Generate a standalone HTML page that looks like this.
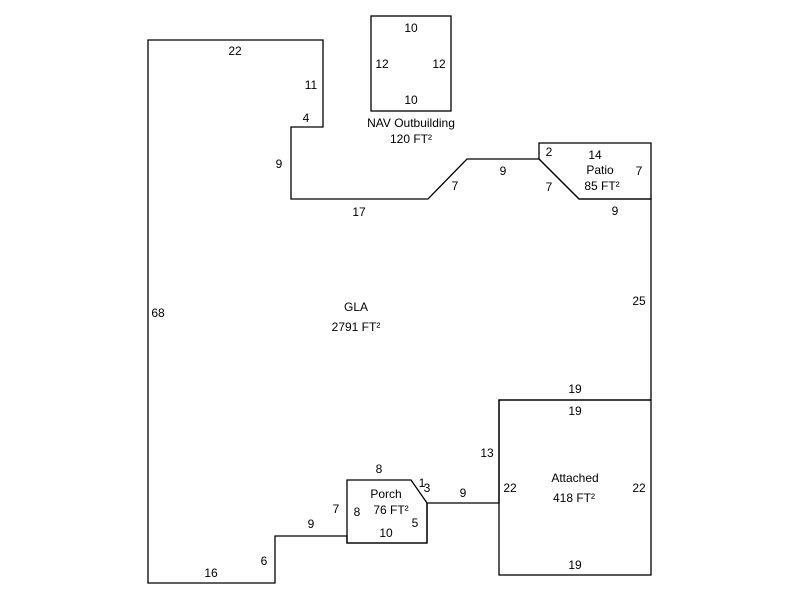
<!DOCTYPE html>
<html><head><meta charset="utf-8"><style>
html,body{margin:0;padding:0;background:#fff;}
svg text{font-family:"Liberation Sans",sans-serif;font-size:12px;fill:#000;}
</style></head><body>
<svg width="800" height="600" viewBox="0 0 800 600" xmlns="http://www.w3.org/2000/svg">
<g fill="none" stroke="#000" stroke-width="1.3">
<polygon points="148,40 323,40 323,127 291,127 291,199 428,199 467,159 539,159 579,199 651,199 651,400 499,400 499,503 427,503 427,543 347,543 347,536 275,536 275,583 148,583"/>
<polygon points="539,143 651,143 651,199 579,199 539,159"/>
<polygon points="347,480 411,480 427,503 427,543 347,543"/>
<rect x="499" y="400" width="152" height="175"/>
<rect x="371" y="16" width="80" height="95"/>
</g>
<g text-anchor="middle">
<text x="411" y="32">10</text><text x="382" y="68">12</text><text x="439" y="68">12</text><text x="411" y="104">10</text>
<text x="411" y="127">NAV Outbuilding</text><text x="411" y="143">120 FT²</text>
<text x="235" y="55">22</text><text x="311" y="89">11</text><text x="306" y="122">4</text><text x="279" y="168">9</text>
<text x="359" y="216">17</text><text x="455" y="190">7</text><text x="503" y="175">9</text>
<text x="549" y="156">2</text><text x="595" y="159">14</text><text x="600" y="174">Patio</text><text x="639" y="175">7</text>
<text x="549" y="191">7</text><text x="602" y="190">85 FT²</text><text x="615" y="215">9</text>
<text x="639" y="305">25</text><text x="158" y="317">68</text>
<text x="356" y="311">GLA</text><text x="356" y="331">2791 FT²</text>
<text x="575" y="393">19</text><text x="575" y="415">19</text><text x="487" y="457">13</text>
<text x="575" y="482">Attached</text><text x="574" y="502">418 FT²</text>
<text x="510" y="492">22</text><text x="639" y="492">22</text><text x="575" y="569">19</text>
<text x="379" y="473">8</text><text x="422" y="487">1</text><text x="427" y="492">3</text>
<text x="386" y="498">Porch</text><text x="463" y="497">9</text>
<text x="336" y="513">7</text><text x="357" y="516">8</text><text x="391" y="514">76 FT²</text><text x="415" y="527">5</text>
<text x="386" y="537">10</text><text x="311" y="528">9</text><text x="264" y="565">6</text><text x="211" y="577">16</text>
</g>
</svg>
</body></html>
